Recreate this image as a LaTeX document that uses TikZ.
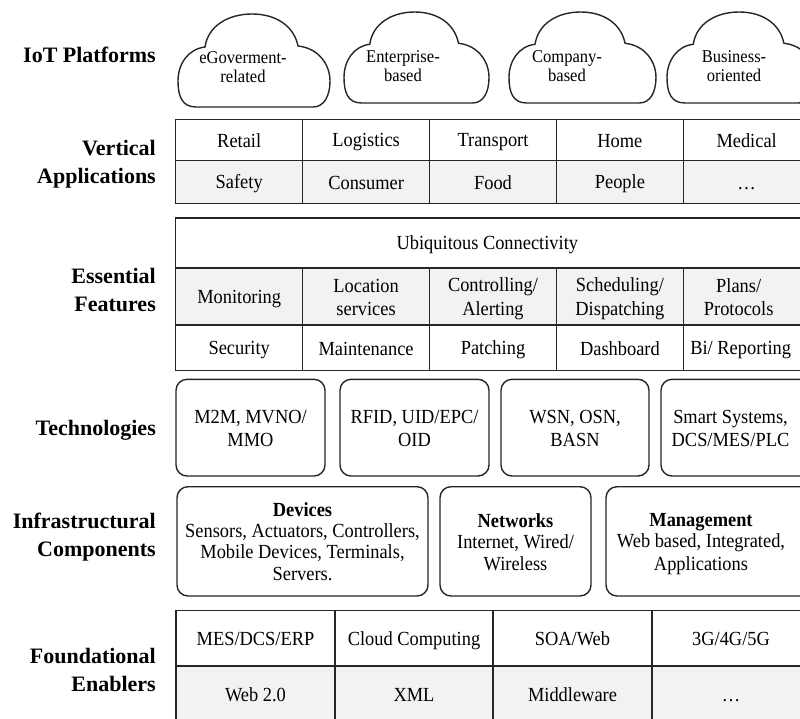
\documentclass[tikz,border=0pt]{standalone}
\usepackage{fontspec}
\setmainfont[FakeStretch=0.92]{Liberation Serif}
\newfontfamily\layerfam{Liberation Serif}
\definecolor{linec}{HTML}{262626}
\definecolor{rowgrey}{HTML}{F2F2F2}
\newcommand\boxfont{\fontsize{20}{21}\selectfont}
\newcommand\layerfont{\layerfam\fontsize{22}{28}\selectfont\bfseries}
\newcommand\puffont{\fontsize{18}{19.5}\selectfont}
% struts that put the text block's baselines slightly below the cell middle
\newcommand\capstrut{\rule[-3.4pt]{0pt}{21.4pt}}
% table cell from corner (x1,y1) to (x2,y2): name, x1, y1, x2, y2, fill, text
\newcommand\tabcell[7]{%
  \pgfmathsetmacro\cellw{#4-#2}\pgfmathsetmacro\cellh{#5-#3}%
  \node[cell, fill=#6, minimum width=\cellw pt, minimum height=\cellh pt]
    (#1) at ({(#2+#4)/2},{(#3+#5)/2}) {\capstrut#7\capstrut};}
\newcommand\roundbox[6]{%
  \pgfmathsetmacro\cellw{#4-#2}\pgfmathsetmacro\cellh{#5-#3}%
  \node[rbox, minimum width=\cellw pt, minimum height=\cellh pt]
    (#1) at ({(#2+#4)/2},{(#3+#5)/2}) {\capstrut#6\capstrut};}
\tikzset{
  cell/.style={draw=linec, line width=1.4pt, inner sep=0pt, align=center, font=\boxfont},
  rbox/.style={cell, fill=white, rounded corners=11pt},
  widelines/.style={font=\fontsize{20}{22}\selectfont},
  layerlabel/.style={anchor=east, align=right, inner sep=0pt, font=\layerfont},
  cloudtext/.style={align=center, inner sep=0pt, font=\puffont},
  cloudline/.style={draw=linec, line width=1.4pt, fill=white, line join=round},
  cloudpic/.pic={
    \path[cloudline] (18,93) .. controls (4,93) and (0,82) .. (0,67)
      .. controls (0,50) and (10,35) .. (27,33)
      .. controls (30,12) and (50,0) .. (74,0)
      .. controls (98,0) and (116,12) .. (120,32)
      .. controls (140,34) and (152,50) .. (152,67)
      .. controls (152,82) and (146,93) .. (135,93)
      -- cycle;
  }
}
\begin{document}
\begin{tikzpicture}[x=1pt,y=-1pt]
\useasboundingbox (0,0) rectangle (800,718);

% layer names
\node[layerlabel] (lplat) at (156,55) {IoT Platforms};
\node[layerlabel] (lvert) at (156,164) {Vertical\\Applications};
\node[layerlabel] (lfeat) at (156,290) {Essential\\Features};
\node[layerlabel] (ltech) at (156,430) {Technologies};
\node[layerlabel] (linfr) at (156,537) {Infrastructural\\Components};
\node[layerlabel] (lfoun) at (156,670) {Foundational\\Enablers};

% IoT platforms: clouds
\pic at (178,14) {cloudpic};
\pic[xscale=0.954,yscale=0.978] at (344,12) {cloudpic};
\pic[xscale=0.967,yscale=0.978] at (509,12) {cloudpic};
\pic[xscale=0.974,yscale=0.978] at (667,12) {cloudpic};
\node[cloudtext] (c1) at (243,67) {eGoverment-\\related};
\node[cloudtext] (c2) at (403,66) {Enterprise-\\based};
\node[cloudtext] (c3) at (567,66) {Company-\\based};
\node[cloudtext] (c4) at (734,66) {Business-\\oriented};

% vertical applications
\tabcell{va1}{175.7}{119.3}{302.7}{160.7}{white}{Retail}
\tabcell{va2}{302.7}{119.3}{429.5}{160.7}{white}{Logistics}
\tabcell{va3}{429.5}{119.3}{556.5}{160.7}{white}{Transport}
\tabcell{va4}{556.5}{119.3}{683.3}{160.7}{white}{Home}
\tabcell{va5}{683.3}{119.3}{810}{160.7}{white}{Medical}
\tabcell{vb1}{175.7}{160.7}{302.7}{203.3}{rowgrey}{Safety}
\tabcell{vb2}{302.7}{160.7}{429.5}{203.3}{rowgrey}{Consumer}
\tabcell{vb3}{429.5}{160.7}{556.5}{203.3}{rowgrey}{Food}
\tabcell{vb4}{556.5}{160.7}{683.3}{203.3}{rowgrey}{People}
\tabcell{vb5}{683.3}{160.7}{810}{203.3}{rowgrey}{\dots}

% essential features
\tabcell{ef0}{175.7}{218}{810}{268}{white}{\hspace*{-11pt}Ubiquitous Connectivity}
\tabcell{ea1}{175.7}{268}{302.7}{325}{rowgrey}{Monitoring}
\tabcell{ea2}{302.7}{268}{429.5}{325}{rowgrey}{Location\\services}
\tabcell{ea3}{429.5}{268}{556.5}{325}{rowgrey}{Controlling/\\Alerting}
\tabcell{ea4}{556.5}{268}{683.3}{325}{rowgrey}{Scheduling/\\Dispatching}
\tabcell{ea5}{683.3}{268}{810}{325}{rowgrey}{\hspace*{-16pt}Plans/\\\hspace*{-16pt}Protocols}
\tabcell{eb1}{175.7}{325}{302.7}{370.7}{white}{Security}
\tabcell{eb2}{302.7}{325}{429.5}{370.7}{white}{Maintenance}
\tabcell{eb3}{429.5}{325}{556.5}{370.7}{white}{Patching}
\tabcell{eb4}{556.5}{325}{683.3}{370.7}{white}{Dashboard}
\tabcell{eb5}{683.3}{325}{810}{370.7}{white}{\hspace*{-12pt}Bi/ Reporting}

% technologies
\begin{scope}[widelines]
\roundbox{t1}{176}{379.3}{325}{476}{M2M, MVNO/\\MMO}
\roundbox{t2}{340}{379.3}{489}{476}{RFID, UID/EPC/\\OID}
\roundbox{t3}{501}{379.3}{649}{476}{WSN, OSN,\\BASN}
\roundbox{t4}{661}{379.3}{822}{476}{\hspace*{-22pt}Smart Systems,\\\hspace*{-22pt}DCS/MES/PLC}

% infrastructural components
\roundbox{i1}{177}{486.7}{428}{596}{\textbf{Devices}\\Sensors, Actuators, Controllers,\\Mobile Devices, Terminals,\\Servers.}
\roundbox{i2}{440}{486.7}{591}{596}{\textbf{Networks}\\Internet, Wired/\\Wireless}
\roundbox{i3}{606}{486.7}{822}{596}{\hspace*{-26pt}\textbf{Management}\\\hspace*{-26pt}Web based, Integrated,\\\hspace*{-26pt}Applications}
\end{scope}

% foundational enablers
\tabcell{fa1}{176}{610.7}{335}{666}{white}{MES/DCS/ERP}
\tabcell{fa2}{335}{610.7}{493}{666}{white}{Cloud Computing}
\tabcell{fa3}{493}{610.7}{652}{666}{white}{SOA/Web}
\tabcell{fa4}{652}{610.7}{810}{666}{white}{3G/4G/5G}
\tabcell{fb1}{176}{666}{335}{722}{rowgrey}{Web 2.0}
\tabcell{fb2}{335}{666}{493}{722}{rowgrey}{XML}
\tabcell{fb3}{493}{666}{652}{722}{rowgrey}{Middleware}
\tabcell{fb4}{652}{666}{810}{722}{rowgrey}{\dots}
\end{tikzpicture}
\end{document}
